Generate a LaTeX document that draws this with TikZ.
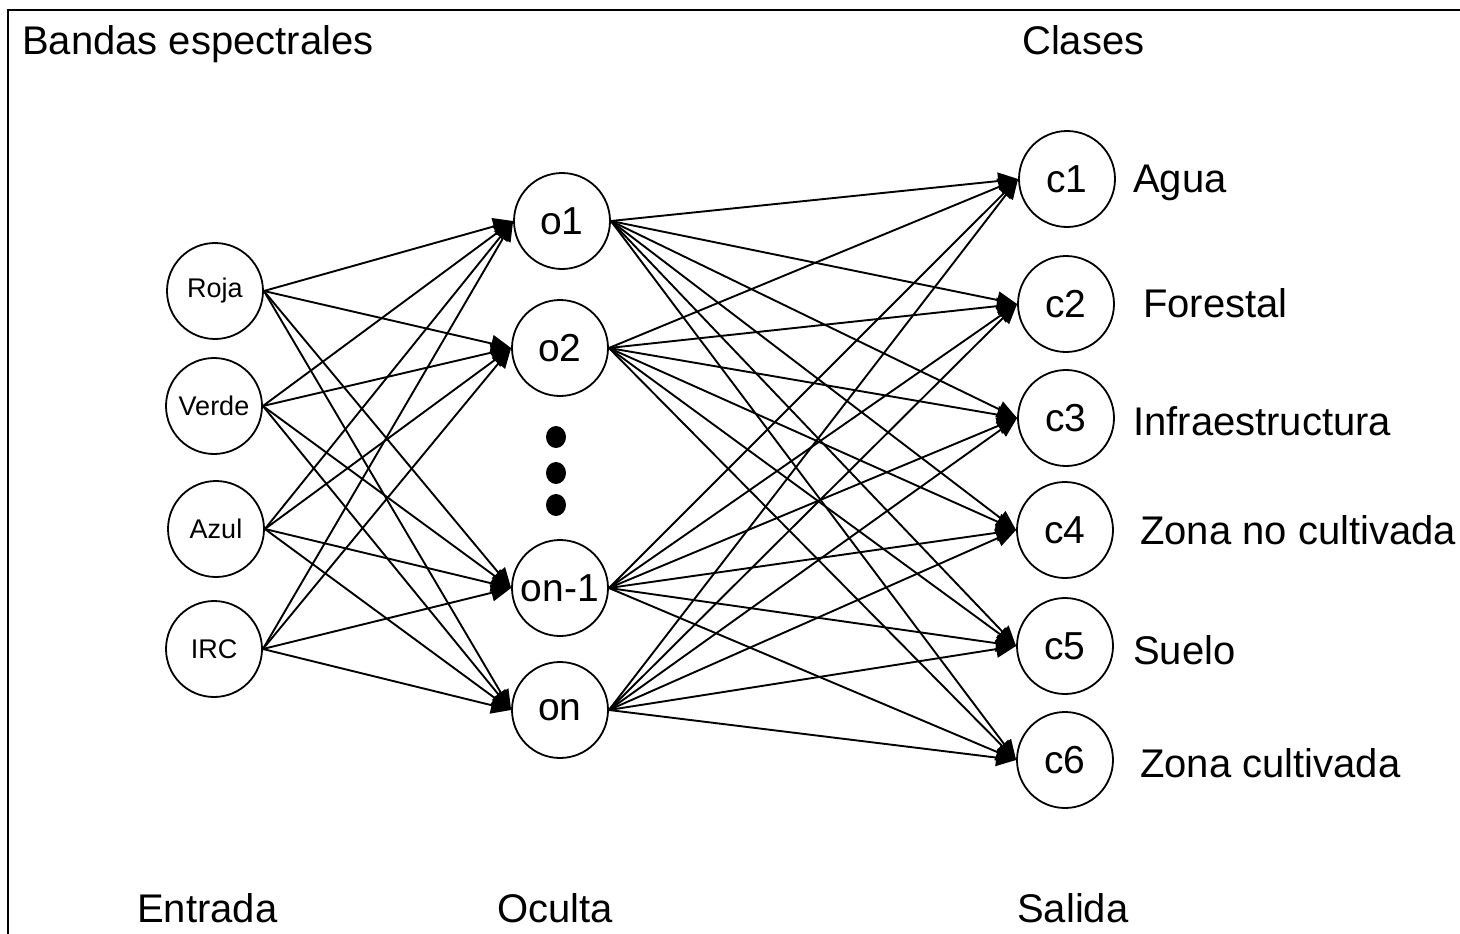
\documentclass[tikz,border=0pt]{standalone}
\usepackage{fontspec}
\setmainfont{Liberation Sans}
\usetikzlibrary{arrows.meta}
\begin{document}
\begin{tikzpicture}[x=1pt,y=-1pt,
  neuron/.style={circle, draw, line width=1.8pt, minimum size=96pt, inner sep=0pt},
  conn/.style={line width=1.9pt, -{Triangle[length=20pt,width=17pt]}},
  lbl/.style={inner sep=0pt, anchor=base west},
  small/.style={font=\fontsize{27}{32}\selectfont},
  mid/.style={font=\fontsize{39}{46}\selectfont},
  big/.style={font=\fontsize{40}{48}\selectfont}]
\useasboundingbox (0,0) rectangle (1460,934);
\fill[white] (0,0) rectangle (1460,934);
\draw[line width=2.5pt] (8,934) -- (8,10) -- (1460,10);

% input layer
\node[neuron, small] (r) at (215,291) {Roja};
\node[neuron, small] (v) at (214,406) {Verde};
\node[neuron, small] (a) at (216,529) {Azul};
\node[neuron, small] (i) at (214,649) {IRC};

% hidden layer
\node[neuron, mid] (h1) at (562,221) {o1};
\node[neuron, mid] (h2) at (560,348) {o2};
\node[neuron, mid] (h3) at (560,588) {on-1};
\node[neuron, mid] (h4) at (560,710) {on};

% output layer
\node[neuron, mid] (c1) at (1067,179) {c1};
\node[neuron, mid] (c2) at (1066,304) {c2};
\node[neuron, mid] (c3) at (1066,418) {c3};
\node[neuron, mid] (c4) at (1065,530) {c4};
\node[neuron, mid] (c5) at (1065,646) {c5};
\node[neuron, mid] (c6) at (1065,760) {c6};

% dots
\fill (556,437) ellipse (10 and 11);
\fill (556,473) ellipse (10 and 11);
\fill (556,505) ellipse (10 and 11);

% connections
\foreach \s in {r,v,a,i}
  \foreach \t in {h1,h2,h3,h4}
    \draw[conn] (\s.east) -- (\t.west);
\foreach \s in {h1,h2,h3,h4}
  \foreach \t in {c1,c2,c3,c4,c5,c6}
    \draw[conn] (\s.east) -- (\t.west);

% class labels
\node[lbl, big] (l1) at (1133,192) {Agua};
\node[lbl, big] (l2) at (1143,317) {Forestal};
\node[lbl, big] (l3) at (1133,435) {Infraestructura};
\node[lbl, big] (l4) at (1140,544) {Zona no cultivada};
\node[lbl, big] (l5) at (1133,664) {Suelo};
\node[lbl, big] (l6) at (1140,777) {Zona cultivada};

% titles
\node[lbl, big] (t1) at (22,55) {Bandas espectrales};
\node[lbl, big] (t2) at (1022,55) {Clases};
\node[lbl, big] (t3) at (137,922) {Entrada};
\node[lbl, big] (t4) at (497,922) {Oculta};
\node[lbl, big] (t5) at (1017,922) {Salida};
\end{tikzpicture}
\end{document}
